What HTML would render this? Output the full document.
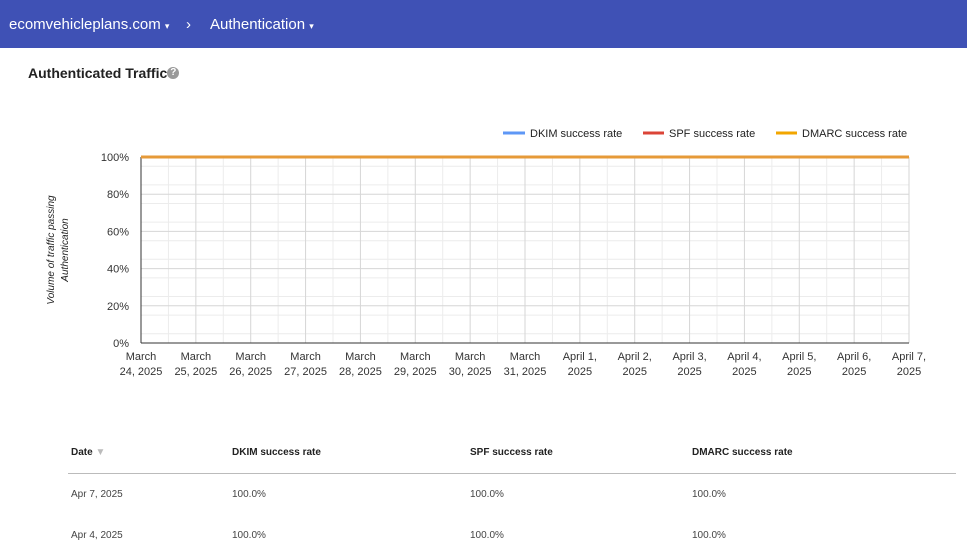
<!DOCTYPE html>
<html><head><style>
body{margin:0;width:967px;height:557px;overflow:hidden;background:#fff;font-family:"Liberation Sans",Arial,sans-serif;position:relative}
.bar{position:absolute;left:0;top:0;width:967px;height:48px;background:#3f51b5;color:#fff;font-size:15px}
.bar span{position:absolute;top:16px}
.t{position:absolute;font-size:10px;color:#444}
.h{font-weight:bold;color:#222}
</style></head><body>
<div class="bar"><span style="left:9px">ecomvehicleplans.com <small style="font-size:9px">▾</small></span><span style="left:186px">›</span><span style="left:210px">Authentication <small style="font-size:9px">▾</small></span></div>
<div style="position:absolute;left:28px;top:65px;font-size:14px;font-weight:bold;color:#212121">Authenticated Traffic<span style="display:inline-block;width:12px;height:12px;border-radius:50%;background:#999;color:#fff;font-size:10px;text-align:center;line-height:12px;vertical-align:3px">?</span></div>
<svg style="position:absolute;left:0;top:0" width="967" height="400" font-family="Liberation Sans,Arial,sans-serif">
<g id="g"></g>
<line x1="503" y1="133" x2="525" y2="133" stroke="#5e97f6" stroke-width="3"/><text x="530" y="137" font-size="11" fill="#222">DKIM success rate</text>
<line x1="643" y1="133" x2="664" y2="133" stroke="#db4437" stroke-width="3"/><text x="669" y="137" font-size="11" fill="#222">SPF success rate</text>
<line x1="776" y1="133" x2="797" y2="133" stroke="#f2a600" stroke-width="3"/><text x="802" y="137" font-size="11" fill="#222">DMARC success rate</text>
<text transform="translate(54,250) rotate(-90)" font-size="10" font-style="italic" fill="#222" text-anchor="middle">Volume of traffic passing</text>
<text transform="translate(68,250) rotate(-90)" font-size="10" font-style="italic" fill="#222" text-anchor="middle">Authentication</text>
</svg>
<script>
var g=document.getElementById('g'),s='';
var x0=141,x1=909,st=768/14,y0=157,y1=343;
for(var i=0;i<=20;i++){var y=y0+i*(y1-y0)/20;if(i%2)s+='<line x1="'+x0+'" x2="'+x1+'" y1="'+y+'" y2="'+y+'" stroke="#ececec"/>';}
for(var i=1;i<28;i+=2){var x=x0+i*st/2;s+='<line x1="'+x+'" x2="'+x+'" y1="'+y0+'" y2="'+y1+'" stroke="#ececec"/>';}
for(var i=0;i<=5;i++){var y=y0+i*(y1-y0)/5;s+='<line x1="'+x0+'" x2="'+x1+'" y1="'+y+'" y2="'+y+'" stroke="#d6d6d6"/>';s+='<text x="129" y="'+(y+4)+'" font-size="11" fill="#333" text-anchor="end">'+(100-i*20)+'%</text>';}
var d=['March|24, 2025','March|25, 2025','March|26, 2025','March|27, 2025','March|28, 2025','March|29, 2025','March|30, 2025','March|31, 2025','April 1,|2025','April 2,|2025','April 3,|2025','April 4,|2025','April 5,|2025','April 6,|2025','April 7,|2025'];
for(var i=0;i<=14;i++){var x=x0+i*st;if(i>0)s+='<line x1="'+x+'" x2="'+x+'" y1="'+y0+'" y2="'+y1+'" stroke="#d6d6d6"/>';var p=d[i].split('|');s+='<text x="'+x+'" y="360" font-size="11" fill="#333" text-anchor="middle">'+p[0]+'</text><text x="'+x+'" y="375" font-size="11" fill="#333" text-anchor="middle">'+p[1]+'</text>';}
s+='<line x1="'+x0+'" x2="'+x0+'" y1="'+y0+'" y2="'+y1+'" stroke="#333"/><line x1="'+x0+'" x2="'+x1+'" y1="'+y1+'" y2="'+y1+'" stroke="#333"/>';
s+='<line x1="'+x0+'" x2="'+x1+'" y1="'+y0+'" y2="'+y0+'" stroke="#e69a38" stroke-width="3"/>';
g.innerHTML=s;
</script>
<div class="t h" style="left:71px;top:447px">Date <span style="color:#bbb">▼</span></div>
<div class="t h" style="left:232px;top:447px">DKIM success rate</div>
<div class="t h" style="left:470px;top:447px">SPF success rate</div>
<div class="t h" style="left:692px;top:447px">DMARC success rate</div>
<div style="position:absolute;left:68px;top:473px;width:888px;height:1px;background:#bbb"></div>
<div class="t" style="left:71px;top:489px">Apr 7, 2025</div><div class="t" style="left:232px;top:489px">100.0%</div><div class="t" style="left:470px;top:489px">100.0%</div><div class="t" style="left:692px;top:489px">100.0%</div>
<div class="t" style="left:71px;top:530px">Apr 4, 2025</div><div class="t" style="left:232px;top:530px">100.0%</div><div class="t" style="left:470px;top:530px">100.0%</div><div class="t" style="left:692px;top:530px">100.0%</div>
</body></html>
